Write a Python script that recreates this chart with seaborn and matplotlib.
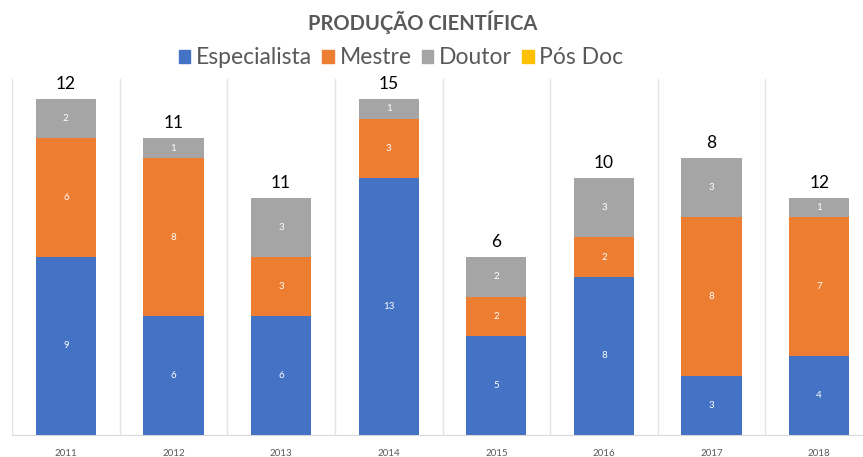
import numpy as np
import pandas as pd
import seaborn as sns
import matplotlib.pyplot as plt
from matplotlib.patches import Patch
from matplotlib.ticker import FixedLocator

anos = ["2011", "2012", "2013", "2014", "2015", "2016", "2017", "2018"]
especialista = [9, 6, 6, 13, 5, 8, 3, 4]
mestre = [6, 8, 3, 3, 2, 2, 8, 7]
doutor = [2, 1, 3, 1, 2, 3, 3, 1]
pos_doc = [0, 0, 0, 0, 0, 0, 0, 0]
totais = ["12", "11", "11", "15", "6", "10", "8", "12"]

series = ["Especialista", "Mestre", "Doutor", "Pós Doc"]
cores = {"Especialista": "#4472C4", "Mestre": "#ED7D31",
         "Doutor": "#A5A5A5", "Pós Doc": "#FFC000"}

sns.set_style("white")
plt.rcParams["font.family"] = ["Lato", "DejaVu Sans"]

df = pd.DataFrame({"ano": anos, "Especialista": especialista, "Mestre": mestre,
                   "Doutor": doutor, "Pós Doc": pos_doc})
cum = df[series].cumsum(axis=1)

fig = plt.figure(figsize=(8.63, 4.57), dpi=100)
ax = fig.add_axes([12 / 863, 22 / 457, 861 / 863, 356 / 457])

# stacked: draw cumulative heights, tallest first
for s in reversed(series):
    sns.barplot(x=df["ano"], y=cum[s], color=cores[s], width=0.56,
                saturation=1, linewidth=0, ax=ax, zorder=3)

# segment labels
for s in series[:3]:
    for i in range(len(anos)):
        v = df[s][i]
        if v > 0:
            ax.text(i, cum[s][i] - v / 2, str(v), ha="center", va="center",
                    color="white", fontsize=7, zorder=4)

# total labels above bars
for i, t in enumerate(totais):
    ax.text(i, cum["Pós Doc"][i] + 0.35, t, ha="center", va="bottom",
            color="black", fontsize=12.5, zorder=4)

ax.set_xlim(-0.5, 7.5)
ax.set_ylim(0, 18)
ax.set_yticks([])
ax.set_xlabel(None)
ax.set_ylabel(None)
ax.xaxis.set_minor_locator(FixedLocator(np.arange(-0.5, 8, 1)))
ax.grid(True, axis="x", which="minor", color="#E3E3E3", lw=1, zorder=0)
ax.grid(False, axis="x", which="major")
ax.tick_params(axis="x", which="both", length=0, pad=10, labelsize=7,
               labelcolor="#595959")
for side in ["top", "right", "left"]:
    ax.spines[side].set_visible(False)
ax.spines["bottom"].set_color("#D9D9D9")

fig.text(423 / 863, 1 - 22 / 457, "PRODUÇÃO CIENTÍFICA", ha="center", va="center",
         fontsize=14.5, fontweight="bold", color="#595959")

handles = [Patch(color=cores[s]) for s in series]
fig.legend(handles, series, loc="center", bbox_to_anchor=(401 / 863, 1 - 58 / 457),
           ncol=4, frameon=False, fontsize=16.5, handlelength=0.5, handleheight=0.5,
           handletextpad=0.25, columnspacing=0.45, labelcolor="#595959")

fig.savefig("out.png", dpi=100)
